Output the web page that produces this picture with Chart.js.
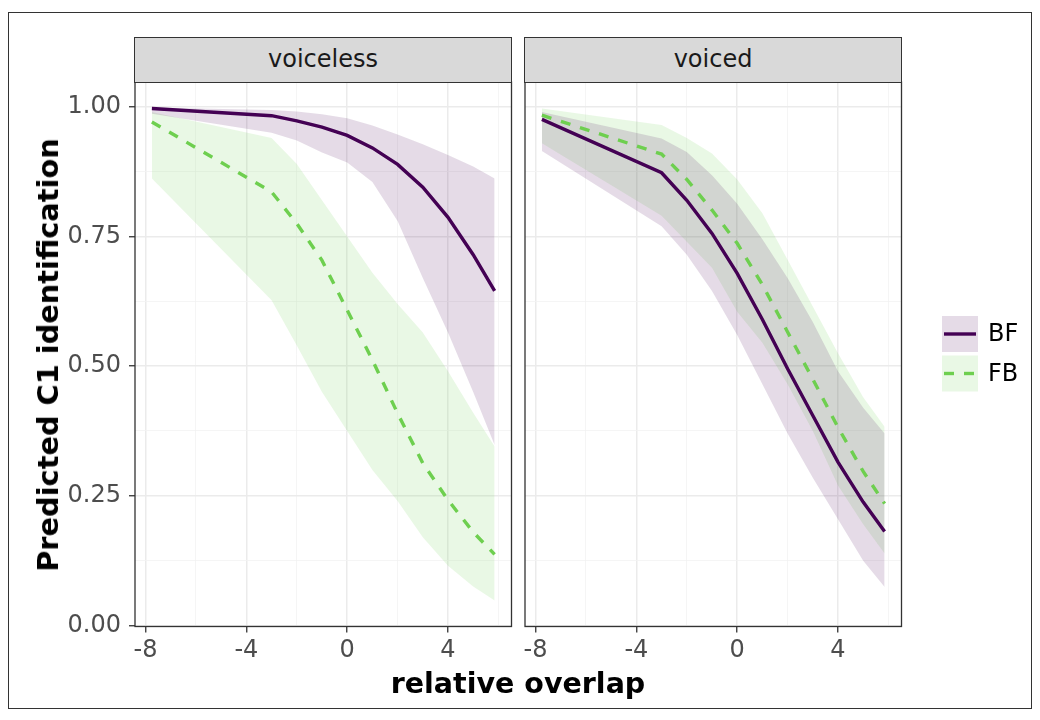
<!DOCTYPE html>
<html>
<head>
<meta charset="utf-8">
<script src="https://cdn.jsdelivr.net/npm/chart.js@4.4.1/dist/chart.umd.min.js"></script>
<style>
  body { margin: 0; background: #fff; font-family: "DejaVu Sans", Arial, sans-serif; }
  #wrap { position: relative; width: 1040px; height: 720px; overflow: hidden; background: #fff; }
  #frame { position: absolute; left: 8px; top: 12px; width: 1024px; height: 697px; border: 1px solid #333; box-sizing: border-box; }
  canvas { position: absolute; left: 0; top: 0; }
  .strip { position: absolute; top: 37px; height: 46px; width: 378px; background: #d9d9d9; border: 1.3px solid #333;
           box-sizing: border-box; text-align: center; line-height: 43px; font-size: 24px; color: #1a1a1a; }
  #ytitle { position: absolute; left: 48px; top: 355px; transform: translate(-50%, -50%) rotate(-90deg);
            white-space: nowrap; font-weight: bold; font-size: 28.8px; color: #000; }
  #xtitle { position: absolute; left: 518px; top: 683px; transform: translate(-50%, -50%);
            white-space: nowrap; font-weight: bold; font-size: 28.5px; color: #000; }
</style>
</head>
<body>
<div id="wrap">
  <div id="frame"></div>
  <canvas id="left" width="1040" height="720"></canvas>
  <canvas id="right" width="1040" height="720"></canvas>
  <div class="strip" style="left:134px">voiceless</div>
  <div class="strip" style="left:524px">voiced</div>
  <div id="ytitle">Predicted C1 identification</div>
  <div id="xtitle">relative overlap</div>
</div>
<script>
// relative overlap values where the predictions were evaluated
const xGrid = [-7.75, -3, -2, -1, 0, 1, 2, 3, 4, 5, 5.85];

// voiceless panel
const bfVoicelessFit = [0.997, 0.983, 0.973, 0.961, 0.945, 0.921, 0.889, 0.845, 0.787, 0.715, 0.645];
const bfVoicelessLo  = [0.987, 0.950, 0.935, 0.912, 0.893, 0.855, 0.780, 0.670, 0.565, 0.450, 0.348];
const bfVoicelessHi  = [0.999, 0.994, 0.991, 0.986, 0.978, 0.964, 0.947, 0.928, 0.907, 0.885, 0.862];
const fbVoicelessFit = [0.971, 0.836, 0.775, 0.704, 0.608, 0.512, 0.409, 0.313, 0.242, 0.180, 0.137];
const fbVoicelessLo  = [0.862, 0.627, 0.540, 0.450, 0.375, 0.300, 0.240, 0.170, 0.115, 0.075, 0.048];
const fbVoicelessHi  = [0.990, 0.940, 0.890, 0.820, 0.750, 0.680, 0.620, 0.565, 0.490, 0.410, 0.345];

// voiced panel
const bfVoicedFit = [0.976, 0.873, 0.820, 0.756, 0.679, 0.590, 0.495, 0.405, 0.315, 0.238, 0.181];
const bfVoicedLo  = [0.915, 0.770, 0.715, 0.645, 0.560, 0.465, 0.370, 0.285, 0.205, 0.125, 0.074];
const bfVoicedHi  = [0.990, 0.939, 0.913, 0.868, 0.813, 0.745, 0.670, 0.585, 0.490, 0.420, 0.370];
const fbVoicedFit = [0.984, 0.909, 0.860, 0.801, 0.737, 0.657, 0.566, 0.475, 0.382, 0.297, 0.235];
const fbVoicedLo  = [0.930, 0.790, 0.740, 0.690, 0.605, 0.545, 0.465, 0.375, 0.270, 0.195, 0.139];
const fbVoicedHi  = [0.997, 0.965, 0.940, 0.910, 0.860, 0.795, 0.705, 0.615, 0.525, 0.440, 0.383];

const groups = ['BF', 'FB'];

const xTicks = [-8, -6, -4, -2, 0, 2, 4, 6];
const xLabelTicks = [-8, -4, 0, 4];
const xLabels = ['-8', '-4', '0', '4'];
const yTicks = [0, 0.125, 0.25, 0.375, 0.5, 0.625, 0.75, 0.875, 1];
const yLabelTicks = [0, 0.25, 0.5, 0.75, 1];
const yLabels = ['0.00', '0.25', '0.50', '0.75', '1.00'];

const purple = '#440154';
const green = '#6ecf4f';
const purpleBand = 'rgba(68, 1, 84, 0.14)';
const greenBand = 'rgba(110, 207, 79, 0.15)';
const tickFont = { family: '"DejaVu Sans", Arial, sans-serif', size: 24 };

function pts(ys) {
    return xGrid.map((x, i) => ({ x: x, y: ys[i] }));
}

function band(lo, hi, color) {
    return [
        { data: pts(lo), borderWidth: 0, borderColor: 'rgba(0,0,0,0)', fill: false, order: 1 },
        { data: pts(hi), borderWidth: 0, borderColor: 'rgba(0,0,0,0)', backgroundColor: color, fill: '-1', order: 1 }
    ];
}

function datasets(bfFit, bfLo, bfHi, fbFit, fbLo, fbHi) {
    return [
        { label: groups[0], data: pts(bfFit), borderColor: purple, backgroundColor: purpleBand, borderWidth: 3.4, order: 0 },
        { label: groups[1], data: pts(fbFit), borderColor: green, backgroundColor: greenBand, borderWidth: 3.4, borderDash: [10, 10], order: 0 },
        ...band(bfLo, bfHi, purpleBand),
        ...band(fbLo, fbHi, greenBand)
    ];
}

const isMajorX = (v) => xLabelTicks.includes(v);
const isMajorY = (v) => yLabelTicks.includes(v);

// box round the panel
const panelBorder = {
    id: 'panelBorder',
    afterDraw(chart) {
        const a = chart.chartArea;
        const ctx = chart.ctx;
        ctx.save();
        ctx.strokeStyle = '#333333';
        ctx.lineWidth = 1.3;
        ctx.strokeRect(a.left, a.top, a.right - a.left, a.bottom - a.top);
        ctx.restore();
    }
};

// ggplot style legend on the right
const sideLegend = {
    id: 'sideLegend',
    afterDraw(chart) {
        const ctx = chart.ctx;
        const ds = chart.data.datasets;
        ctx.save();
        [0, 1].forEach((i) => {
            const top = 316 + i * 39.5;
            ctx.fillStyle = ds[i].backgroundColor;
            ctx.fillRect(942, top, 36, 36);
            ctx.strokeStyle = ds[i].borderColor;
            ctx.lineWidth = 3.4;
            ctx.setLineDash(ds[i].borderDash || []);
            ctx.beginPath();
            ctx.moveTo(944, top + 18);
            ctx.lineTo(976, top + 18);
            ctx.stroke();
            ctx.setLineDash([]);
            ctx.fillStyle = '#000';
            ctx.font = '24px "DejaVu Sans", Arial, sans-serif';
            ctx.textBaseline = 'middle';
            ctx.textAlign = 'left';
            ctx.fillText(ds[i].label, 988, top + 19);
        });
        ctx.restore();
    }
};

function makePanel(id, sets, showY, padLeft, padRight, extraPlugins) {
    return new Chart(document.getElementById(id), {
        type: 'line',
        data: { datasets: sets },
        options: {
            responsive: false,
            animation: false,
            events: [],
            layout: { padding: { left: padLeft, right: padRight, top: 82, bottom: 53.5 } },
            elements: { point: { radius: 0 }, line: { tension: 0 } },
            plugins: { legend: { display: false }, tooltip: { enabled: false } },
            scales: {
                x: {
                    type: 'linear',
                    min: -8.42,
                    max: 6.52,
                    afterBuildTicks: (scale) => { scale.ticks = xTicks.map((v) => ({ value: v })); },
                    afterFit: (scale) => { scale.height = 40; },
                    border: { display: false },
                    grid: {
                        color: (c) => isMajorX(c.tick.value) ? '#ebebeb' : '#f3f3f3',
                        lineWidth: (c) => isMajorX(c.tick.value) ? 1.5 : 0.8,
                        tickColor: (c) => isMajorX(c.tick.value) ? '#333333' : 'rgba(0,0,0,0)',
                        tickWidth: 1.3,
                        tickLength: 6
                    },
                    ticks: {
                        autoSkip: false,
                        maxRotation: 0,
                        padding: 4,
                        color: '#4d4d4d',
                        font: tickFont,
                        callback: (v) => isMajorX(v) ? xLabels[xLabelTicks.indexOf(v)] : ''
                    }
                },
                y: {
                    type: 'linear',
                    min: -0.002,
                    max: 1.048,
                    afterBuildTicks: (scale) => { scale.ticks = yTicks.map((v) => ({ value: v })); },
                    afterFit: (scale) => { scale.width = showY ? 135 : 0; },
                    border: { display: false },
                    grid: {
                        color: (c) => isMajorY(c.tick.value) ? '#ebebeb' : '#f3f3f3',
                        lineWidth: (c) => isMajorY(c.tick.value) ? 1.5 : 0.8,
                        tickColor: (c) => isMajorY(c.tick.value) ? '#333333' : 'rgba(0,0,0,0)',
                        tickWidth: 1.3,
                        tickLength: 6,
                        drawTicks: showY
                    },
                    ticks: {
                        display: showY,
                        autoSkip: false,
                        padding: 8,
                        color: '#4d4d4d',
                        font: tickFont,
                        callback: (v) => isMajorY(v) ? yLabels[yLabelTicks.indexOf(v)] : ''
                    }
                }
            }
        },
        plugins: [panelBorder].concat(extraPlugins)
    });
}

makePanel('left',
    datasets(bfVoicelessFit, bfVoicelessLo, bfVoicelessHi, fbVoicelessFit, fbVoicelessLo, fbVoicelessHi),
    true, 0, 528.5, []);

makePanel('right',
    datasets(bfVoicedFit, bfVoicedLo, bfVoicedHi, fbVoicedFit, fbVoicedLo, fbVoicedHi),
    false, 525, 138.5, [sideLegend]);
</script>
</body>
</html>
